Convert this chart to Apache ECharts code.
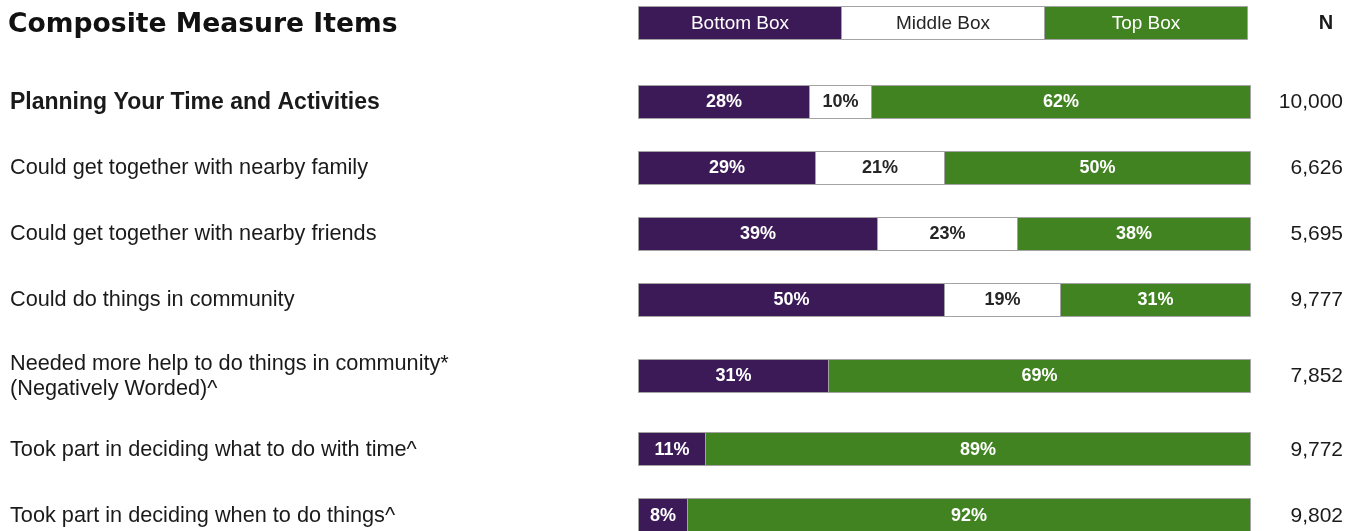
<!DOCTYPE html>
<html>
<head>
<meta charset="utf-8">
<script src="https://cdn.jsdelivr.net/npm/echarts@6/dist/echarts.min.js"></script>
<style>
  html, body { margin: 0; padding: 0; background: #ffffff; }
  #chart { width: 1359px; height: 531px; }
</style>
</head>
<body>
<div id="chart"></div>
<script>
// ---- data ----
const items = [
  'Planning Your Time and Activities',
  'Could get together with nearby family',
  'Could get together with nearby friends',
  'Could do things in community',
  'Needed more help to do things in community*\n(Negatively Worded)^',
  'Took part in deciding what to do with time^',
  'Took part in deciding when to do things^'
];
const bottomBox = [28, 29, 39, 50, 31, 11, 8];
const middleBox = [10, 21, 23, 19, 0, 0, 0];
const topBox    = [62, 50, 38, 31, 69, 89, 92];
const nValues   = [10000, 6626, 5695, 9777, 7852, 9772, 9802];
const boxNames  = ['Bottom Box', 'Middle Box', 'Top Box'];

// ---- layout ----
// vertical slot of each row on the hidden y axis (the two-line item takes extra room)
const rowSlot = [0, 1, 2, 3, 4.15, 5.265, 6.265];
const legendSlot = -1.19;
const barThickness = 0.5;        // in slot units
const legendSpan = 99.5;         // legend strip length on the percent axis
const boxColors = ['#3c1a58', '#ffffff', '#418321'];
const boxTextColors = ['#ffffff', '#262626', '#ffffff'];
const edgeColor = '#a3a3a3';
const labelFont = '"Liberation Sans", Arial, sans-serif';

// stacked segments: [start, end, row, value, box]
const segments = [];
items.forEach((_, r) => {
  const vals = [bottomBox[r], middleBox[r], topBox[r]];
  let acc = 0;
  vals.forEach((v, b) => {
    if (v > 0) segments.push([acc, acc + v, r, v, b]);
    acc += v;
  });
});

const legendCells = boxNames.map((name, b) => [b * legendSpan / 3, (b + 1) * legendSpan / 3, b]);

function crisp(v) { return Math.round(v) + 0.5; }

function boxRect(api, start, end, slot, b) {
  const p0 = api.coord([start, slot]);
  const p1 = api.coord([end, slot]);
  const h = api.size([0, barThickness])[1];
  const x0 = crisp(p0[0]), x1 = crisp(p1[0]);
  const y0 = crisp(p0[1] - h / 2), y1 = crisp(p0[1] + h / 2);
  return {
    rect: { type: 'rect', shape: { x: x0, y: y0, width: x1 - x0, height: y1 - y0 },
            style: { fill: boxColors[b], stroke: edgeColor, lineWidth: 1 } },
    cx: (x0 + x1) / 2, cy: p0[1]
  };
}

const chart = echarts.init(document.getElementById('chart'), null, { renderer: 'canvas' });

chart.setOption({
  animation: false,
  backgroundColor: '#ffffff',
  grid: { left: 638, width: 612, top: 2.5, height: 528 },
  xAxis: { type: 'value', min: 0, max: 100, show: false },
  yAxis: { type: 'value', min: -1.5, max: 6.5, inverse: true, show: false },
  graphic: [
    { type: 'text', left: 8, top: 12,
      style: { text: 'Composite Measure Items', fill: '#111111',
               font: 'bold 26.6px "DejaVu Sans", sans-serif' } }
  ],
  series: [
    {
      // stacked percentage bars
      type: 'custom', clip: false,
      data: segments,
      renderItem: function (params, api) {
        const r = api.value(2), b = api.value(4), v = api.value(3);
        const box = boxRect(api, api.value(0), api.value(1), rowSlot[r], b);
        return { type: 'group', children: [
          box.rect,
          { type: 'text', style: { text: v + '%', x: box.cx, y: box.cy + 1,
              align: 'center', verticalAlign: 'middle', fill: boxTextColors[b],
              font: 'bold 18px ' + labelFont } }
        ] };
      }
    },
    {
      // legend strip
      type: 'custom', clip: false,
      data: legendCells,
      renderItem: function (params, api) {
        const b = api.value(2);
        const box = boxRect(api, api.value(0), api.value(1), legendSlot, b);
        const children = [
          box.rect,
          { type: 'text', style: { text: boxNames[b], x: box.cx, y: box.cy + 1,
              align: 'center', verticalAlign: 'middle', fill: boxTextColors[b],
              font: '19px ' + labelFont } }
        ];
        if (b === boxNames.length - 1) {
          children.push({ type: 'text', style: { text: 'N', x: 1326, y: box.cy + 1,
              align: 'center', verticalAlign: 'middle', fill: '#1a1a1a',
              font: 'bold 20px ' + labelFont } });
        }
        return { type: 'group', children: children };
      }
    },
    {
      // item names and respondent counts
      type: 'custom', clip: false,
      data: items.map((_, r) => [r]),
      renderItem: function (params, api) {
        const r = api.value(0);
        const y = api.coord([0, rowSlot[r]])[1];
        return { type: 'group', children: [
          { type: 'text', style: { text: items[r], x: 10, y: y + 1,
              align: 'left', verticalAlign: 'middle', fill: '#1a1a1a', lineHeight: 25,
              font: (r === 0 ? 'bold 23px ' : '21.7px ') + labelFont } },
          { type: 'text', style: { text: nValues[r].toLocaleString('en-US'), x: 1343, y: y + 1,
              align: 'right', verticalAlign: 'middle', fill: '#1a1a1a',
              font: '21px ' + labelFont } }
        ] };
      }
    }
  ]
});
</script>
</body>
</html>
